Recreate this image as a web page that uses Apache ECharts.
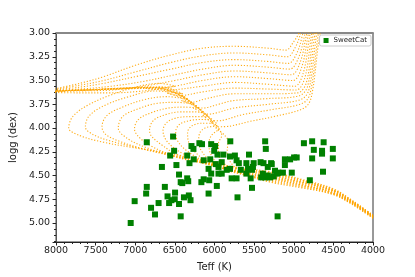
<!DOCTYPE html>
<html><head><meta charset="utf-8">
<script src="https://cdn.jsdelivr.net/npm/echarts@6/dist/echarts.min.js"></script>
<style>html,body{margin:0;padding:0;background:#fff}#c{width:415px;height:277px}</style>
</head><body><div id="c"></div>
<script>
// Tick labels
const xTicks = [8000, 7500, 7000, 6500, 6000, 5500, 5000, 4500, 4000];
const yTicks = [3.00, 3.25, 3.50, 3.75, 4.00, 4.25, 4.50, 4.75, 5.00];

// SweetCat stars (Teff, logg)
const sweetTeff = [6855,6523,6510,6560,6291,6266,6191,6158,6042,5992,6004,5801,5361,5353,
6481,6664,6345,6262,6316,6137,6054,5963,5888,5909,5984,5950,5805,5743,5722,5693,5565,5598,5506,5515,5419,5382,5328,5278,5237,
6448,6427,6407,6345,6332,6166,6137,6067,6075,6042,5950,5909,5846,5805,5784,5722,5668,5598,5577,5544,5527,5411,5390,5361,5328,5299,5253,5212,
6855,6863,6627,6498,6593,6544,6502,6386,6324,6303,6573,6448,6706,6801,7008,6751,6427,6075,5971,5710,5527,7058,5204,
4872,4768,4623,4747,4643,4643,4507,4768,4507,4631,4797,5112,5046,4996,4963,5112,5286,5195,5137,5025];
const sweetLogg = [4.15,4.09,4.24,4.29,4.19,4.22,4.16,4.17,4.17,4.19,4.24,4.14,4.14,4.22,
4.39,4.41,4.29,4.33,4.37,4.34,4.33,4.28,4.28,4.36,4.38,4.41,4.30,4.29,4.34,4.37,4.28,4.37,4.37,4.41,4.36,4.37,4.41,4.38,4.45,
4.49,4.57,4.58,4.53,4.56,4.57,4.54,4.55,4.43,4.48,4.48,4.48,4.44,4.43,4.53,4.53,4.44,4.48,4.43,4.53,4.44,4.52,4.48,4.52,4.50,4.52,4.51,4.48,
4.62,4.69,4.62,4.68,4.72,4.76,4.75,4.73,4.71,4.76,4.79,4.80,4.79,4.84,4.77,4.91,4.93,4.69,4.61,4.73,4.63,5.00,4.93,
4.16,4.14,4.15,4.23,4.24,4.27,4.22,4.32,4.32,4.46,4.55,4.33,4.33,4.31,4.31,4.39,4.37,4.47,4.47,4.47];

// Isochrones: [Teff, logg]
const iso0 = [[4000,4.92],[4250,4.77],[4500,4.64],[4900,4.54],[5300,4.46],[5750,4.41],[6150,4.34],[6550,4.27],[7000,4.21],[7400,4.15],[7700,4.08],[7840,4.00],[7790,3.88],[7600,3.76],[7300,3.65],[6950,3.56],[6700,3.53],[6500,3.56],[7000,3.58],[7600,3.60],[8150,3.61],[7700,3.53],[7400,3.46],[7000,3.34],[6550,3.23],[6150,3.16],[5750,3.14],[5320,3.16],[5100,3.18],[5000,3.09],[4935,3.00],[4900,2.90]];
const iso1 = [[4000,4.92],[4250,4.77],[4500,4.65],[4900,4.55],[5300,4.47],[5750,4.42],[6100,4.36],[6500,4.29],[6900,4.22],[7300,4.14],[7530,4.07],[7630,3.99],[7580,3.87],[7380,3.76],[7080,3.67],[6750,3.61],[6400,3.64],[6650,3.57],[7100,3.58],[7600,3.60],[8150,3.61],[7700,3.55],[7400,3.50],[7000,3.41],[6550,3.31],[6150,3.24],[5750,3.21],[5320,3.23],[5080,3.25],[4980,3.15],[4920,3.02],[4895,2.90]];
const iso2 = [[4000,4.92],[4250,4.78],[4500,4.65],[4900,4.55],[5300,4.48],[5750,4.42],[6100,4.37],[6500,4.30],[6900,4.22],[7200,4.14],[7370,4.07],[7420,3.99],[7360,3.87],[7160,3.78],[6880,3.70],[6600,3.67],[6330,3.70],[6480,3.62],[6700,3.57],[7100,3.58],[7600,3.60],[8150,3.61],[7700,3.57],[7400,3.53],[7000,3.46],[6550,3.38],[6150,3.31],[5750,3.28],[5320,3.30],[5070,3.32],[4960,3.21],[4890,3.02],[4865,2.90]];
const iso3 = [[4000,4.93],[4250,4.78],[4500,4.66],[4900,4.56],[5300,4.49],[5750,4.43],[6100,4.37],[6500,4.30],[6850,4.21],[7100,4.11],[7215,4.00],[7160,3.88],[6970,3.80],[6720,3.74],[6480,3.73],[6260,3.75],[6400,3.67],[6600,3.60],[6800,3.57],[7200,3.58],[7700,3.60],[8150,3.61],[7700,3.59],[7300,3.56],[6900,3.51],[6500,3.44],[6150,3.38],[5750,3.34],[5320,3.36],[5050,3.38],[4940,3.26],[4865,3.03],[4840,2.90]];
const iso4 = [[4000,4.93],[4250,4.78],[4500,4.66],[4900,4.57],[5300,4.50],[5750,4.44],[6100,4.38],[6500,4.30],[6800,4.19],[6960,4.09],[7010,4.01],[6960,3.91],[6800,3.84],[6580,3.79],[6380,3.78],[6200,3.79],[6320,3.71],[6500,3.63],[6720,3.58],[7200,3.59],[7700,3.60],[8150,3.62],[7700,3.61],[7300,3.60],[6900,3.56],[6500,3.50],[6150,3.44],[5750,3.40],[5320,3.42],[5030,3.44],[4920,3.31],[4845,3.04],[4815,2.90]];
const iso5 = [[4000,4.93],[4250,4.79],[4500,4.67],[4900,4.57],[5300,4.51],[5750,4.45],[6100,4.38],[6450,4.29],[6680,4.17],[6800,4.08],[6820,4.02],[6770,3.92],[6620,3.86],[6420,3.83],[6250,3.83],[6140,3.84],[6250,3.76],[6420,3.66],[6620,3.59],[7000,3.58],[7600,3.60],[8150,3.62],[7700,3.63],[7300,3.63],[6900,3.61],[6500,3.56],[6150,3.50],[5750,3.46],[5320,3.48],[5010,3.50],[4900,3.36],[4825,3.05],[4795,2.90]];
const iso6 = [[4000,4.93],[4250,4.79],[4500,4.67],[4900,4.58],[5300,4.52],[5750,4.45],[6100,4.37],[6420,4.26],[6600,4.14],[6650,4.03],[6600,3.94],[6460,3.89],[6270,3.88],[6090,3.88],[6180,3.80],[6350,3.70],[6550,3.62],[6900,3.58],[6600,3.60],[6150,3.56],[5750,3.52],[5320,3.54],[4990,3.56],[4880,3.42],[4805,3.06],[4775,2.90]];
const iso7 = [[4000,4.94],[4250,4.79],[4500,4.68],[4900,4.59],[5300,4.52],[5750,4.46],[6100,4.36],[6350,4.24],[6470,4.13],[6490,4.04],[6440,3.96],[6300,3.92],[6140,3.91],[6040,3.92],[6130,3.84],[6300,3.74],[6480,3.66],[6600,3.63],[6450,3.66],[6150,3.62],[5750,3.58],[5320,3.59],[4970,3.60],[4860,3.47],[4785,3.07],[4755,2.90]];
const iso8 = [[4000,4.94],[4250,4.80],[4500,4.68],[4900,4.60],[5300,4.53],[5750,4.46],[6050,4.37],[6250,4.25],[6330,4.14],[6340,4.05],[6290,3.98],[6160,3.95],[6010,3.95],[6080,3.88],[6250,3.77],[6420,3.71],[6300,3.73],[6100,3.69],[5750,3.64],[5320,3.64],[4950,3.63],[4840,3.52],[4765,3.07],[4735,2.90]];
const iso9 = [[4000,4.94],[4250,4.80],[4500,4.69],[4900,4.60],[5300,4.54],[5750,4.47],[6000,4.38],[6150,4.26],[6200,4.15],[6190,4.06],[6120,4.00],[6000,3.98],[5970,3.97],[6080,3.88],[6270,3.79],[6150,3.79],[5950,3.75],[5750,3.71],[5320,3.69],[4930,3.66],[4825,3.56],[4745,3.08],[4715,2.90]];
const iso10 = [[4000,4.94],[4250,4.80],[4500,4.69],[4900,4.61],[5300,4.55],[5700,4.47],[5950,4.38],[6050,4.27],[6070,4.16],[6040,4.08],[5970,4.03],[5940,4.01],[6050,3.93],[6150,3.86],[6020,3.85],[5750,3.79],[5320,3.75],[4910,3.70],[4810,3.60],[4725,3.09],[4695,2.90]];
const iso11 = [[4000,4.95],[4250,4.81],[4500,4.70],[4900,4.62],[5300,4.56],[5650,4.48],[5870,4.38],[5950,4.27],[5950,4.16],[5910,4.08],[5920,4.04],[6050,3.93],[5900,3.92],[5650,3.86],[5300,3.81],[4890,3.74],[4795,3.64],[4705,3.10],[4675,2.90]];
const iso12 = [[4000,4.95],[4250,4.81],[4500,4.70],[4900,4.63],[5300,4.57],[5600,4.49],[5780,4.38],[5840,4.25],[5830,4.14],[5880,4.07],[5980,4.00],[5800,3.98],[5550,3.93],[5250,3.88],[4870,3.79],[4780,3.68],[4690,3.12],[4645,2.90]];
const isochrones = [iso0, iso1, iso2, iso3, iso4, iso5, iso6, iso7, iso8, iso9, iso10, iso11, iso12];

const chart = echarts.init(document.getElementById('c'), null, {renderer: 'canvas'});
const FONT = 'DejaVu Sans';
const series = isochrones.map(iso => ({
  type: 'line', data: iso, smooth: 0.35, symbol: 'none', silent: true,
  clip: true, z: 2,
  lineStyle: {color: '#FFA500', width: 1.1, type: [1.2, 1.8], opacity: 0.9}
}));
series.push({
  name: 'SweetCat', type: 'scatter', symbol: 'rect', symbolSize: 6, z: 5,
  itemStyle: {color: '#008000', opacity: 1},
  data: sweetTeff.map((t, i) => [t, sweetLogg[i]])
});

const isTick = (v, arr) => arr.some(t => Math.abs(t - v) < 1e-6);
chart.setOption({
  animation: false,
  backgroundColor: '#fff',
  grid: {left: 52, top: 33, width: 321, height: 209, show: true, borderColor: '#333', borderWidth: 1, backgroundColor: 'transparent'},
  legend: {
    data: ['SweetCat'], right: 44, top: 35, orient: 'vertical',
    backgroundColor: '#fff', borderColor: '#ccc', borderWidth: 1, borderRadius: 2,
    padding: [2, 4, 2, 4], itemWidth: 5, itemHeight: 5, itemGap: 2,
    textStyle: {fontFamily: FONT, fontSize: 7, color: '#222'}
  },
  xAxis: [{
    type: 'value', min: 4000, max: 8000, interval: 500, inverse: true,
    name: 'Teff (K)', nameLocation: 'middle', nameGap: 20,
    nameTextStyle: {fontFamily: FONT, fontSize: 10, color: '#222'},
    axisLine: {show: true, onZero: false, lineStyle: {color: '#222', width: 1}},
    axisTick: {show: true, length: 3.5, inside: false, lineStyle: {color: '#222'}},
    minorTick: {show: true, splitNumber: 5, length: 2, lineStyle: {color: '#222'}},
    splitLine: {show: false},
    axisLabel: {fontFamily: FONT, fontSize: 9.5, color: '#222', margin: 4,
      formatter: v => isTick(v, xTicks) ? String(v) : ''}
  }, {
    type: 'value', min: 4000, max: 8000, inverse: true, position: 'top',
    axisLine: {show: true, onZero: false, lineStyle: {color: '#888', width: 2}},
    axisTick: {show: false}, axisLabel: {show: false}, splitLine: {show: false}
  }],
  yAxis: [{
    type: 'value', min: 3.0, max: 5.2, interval: 0.25, inverse: true,
    name: 'logg (dex)', nameLocation: 'middle', nameGap: 36, nameRotate: 90,
    nameTextStyle: {fontFamily: FONT, fontSize: 10, color: '#222'},
    axisLine: {show: true, onZero: false, lineStyle: {color: '#555', width: 1}},
    axisTick: {show: true, length: 3.5, inside: false, lineStyle: {color: '#222'}},
    minorTick: {show: true, splitNumber: 4, length: 2, lineStyle: {color: '#222'}},
    splitLine: {show: false},
    axisLabel: {fontFamily: FONT, fontSize: 9.5, color: '#222', margin: 6,
      formatter: v => isTick(v, yTicks) ? v.toFixed(2) : ''}
  }],
  series: series
});
</script></body></html>
